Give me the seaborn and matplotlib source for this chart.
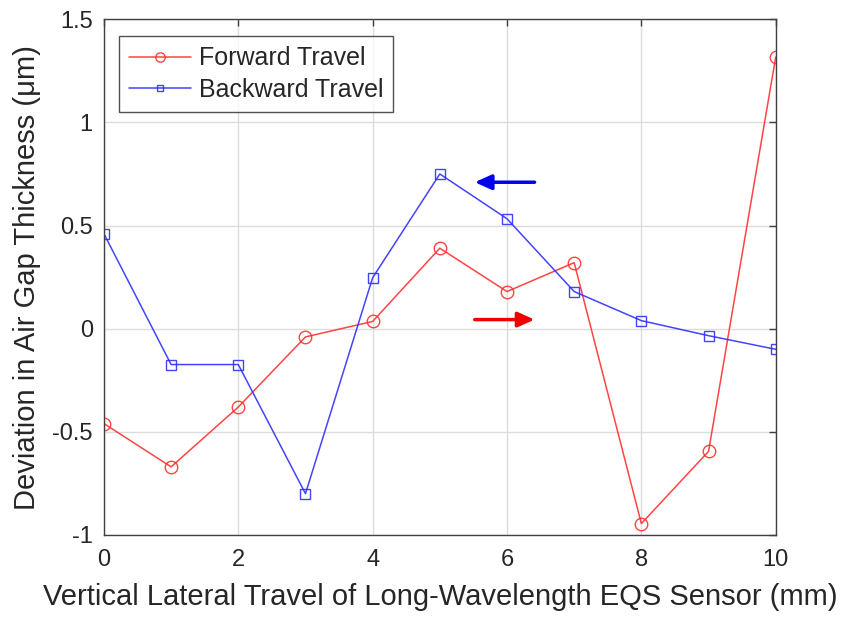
import matplotlib
matplotlib.use("Agg")
import matplotlib.pyplot as plt
import seaborn as sns
import pandas as pd

# Lateral travel positions (mm)
travel_mm = [0, 1, 2, 3, 4, 5, 6, 7, 8, 9, 10]
# Air gap deviation (µm) for each direction of travel
forward_dev = [-0.46, -0.67, -0.38, -0.04, 0.035, 0.39, 0.18, 0.32, -0.945, -0.595, 1.317]
backward_dev = [0.46, -0.174, -0.174, -0.80, 0.247, 0.75, 0.533, 0.18, 0.039, -0.034, -0.10]

series_names = ["Forward Travel", "Backward Travel"]
x_ticks = [0, 2, 4, 6, 8, 10]
y_ticks = [-1, -0.5, 0, 0.5, 1, 1.5]
y_tick_labels = ["-1", "-0.5", "0", "0.5", "1", "1.5"]

sns.set_style("white")
plt.rcParams["font.family"] = ["Liberation Sans", "DejaVu Sans"]

df = pd.DataFrame({
    "travel": travel_mm * 2,
    "dev": forward_dev + backward_dev,
    "series": [series_names[0]] * len(travel_mm) + [series_names[1]] * len(travel_mm),
})

fig = plt.figure(figsize=(8.45, 6.22), dpi=100)
ax = fig.add_axes([0.123, 0.140, 0.795, 0.829])

styles = {series_names[0]: ("#ff3030", "o", 9), series_names[1]: ("#3030ff", "s", 6.5)}
for name in series_names:
    color, marker, ms = styles[name]
    sns.lineplot(data=df[df["series"] == name], x="travel", y="dev", ax=ax,
                 color=color, marker=marker, markersize=ms, markerfacecolor="none",
                 markeredgecolor=color, markeredgewidth=1.0, linewidth=1.1,
                 label=name, alpha=0.9)

ax.set_xlim(0, 10)
ax.set_ylim(-1, 1.5)
ax.set_xticks(x_ticks)
ax.set_yticks(y_ticks)
ax.set_yticklabels(y_tick_labels)
ax.grid(True, color="#dcdcdc", linewidth=1.0)
ax.set_axisbelow(True)
for s in ax.spines.values():
    s.set_color("#404040")
    s.set_linewidth(1.0)
ax.tick_params(axis="both", direction="in", length=5, width=1, colors="#404040",
               labelsize=17, labelcolor="#262626", top=True, right=True, pad=8)
ax.tick_params(axis="x", pad=10)

ax.set_xlabel("Vertical Lateral Travel of Long-Wavelength EQS Sensor (mm)",
              fontsize=21, color="#262626", labelpad=9)
ax.set_ylabel("Deviation in Air Gap Thickness (\u03bcm)", fontsize=21,
              color="#262626", labelpad=8)

# Direction arrows
ax.annotate("", xy=(5.52, 0.71), xytext=(6.41, 0.71),
            arrowprops=dict(arrowstyle="-|>,head_length=1.0,head_width=0.45",
                            color="#0000ee", lw=2.5, shrinkA=0, shrinkB=0))
ax.annotate("", xy=(6.41, 0.044), xytext=(5.52, 0.044),
            arrowprops=dict(arrowstyle="-|>,head_length=1.0,head_width=0.45",
                            color="#ee0000", lw=2.5, shrinkA=0, shrinkB=0))

leg = ax.legend(loc="upper left", bbox_to_anchor=(0.022, 0.967), fontsize=18,
                frameon=True, fancybox=False, edgecolor="#262626",
                borderaxespad=0, handlelength=2.5, borderpad=0.4,
                labelspacing=0.3, handletextpad=0.3, markerscale=0.75)
leg.get_frame().set_linewidth(1.0)
for t in leg.get_texts():
    t.set_color("#262626")

fig.savefig("out.png", dpi=100)
